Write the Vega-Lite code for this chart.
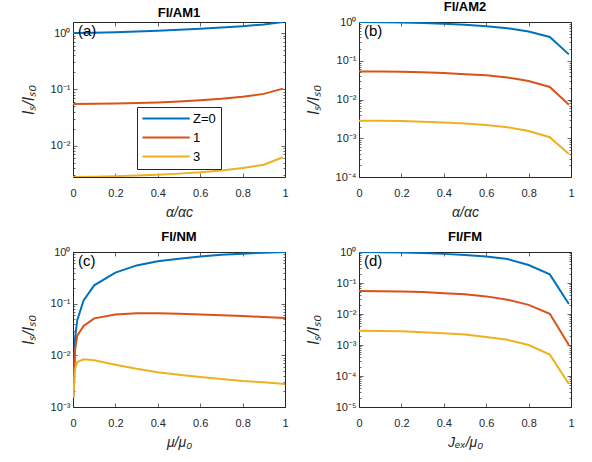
{
"$schema": "https://vega.github.io/schema/vega-lite/v6.json",
"padding": {"left": 19, "top": 0, "right": 5, "bottom": 5},
"background": "white",
"datasets": {
"d": [
{"p":"a","z":"Z=0","x":0,"y":1.0},{"p":"a","z":"Z=0","x":0.1,"y":1.01},{"p":"a","z":"Z=0","x":0.2,"y":1.03},{"p":"a","z":"Z=0","x":0.3,"y":1.06},{"p":"a","z":"Z=0","x":0.4,"y":1.1},{"p":"a","z":"Z=0","x":0.5,"y":1.14},{"p":"a","z":"Z=0","x":0.6,"y":1.19},{"p":"a","z":"Z=0","x":0.7,"y":1.25},{"p":"a","z":"Z=0","x":0.8,"y":1.32},{"p":"a","z":"Z=0","x":0.9,"y":1.42},{"p":"a","z":"Z=0","x":0.99,"y":1.57},
{"p":"a","z":"1","x":0,"y":0.055},{"p":"a","z":"1","x":0.1,"y":0.0552},{"p":"a","z":"1","x":0.2,"y":0.0558},{"p":"a","z":"1","x":0.3,"y":0.057},{"p":"a","z":"1","x":0.4,"y":0.0585},{"p":"a","z":"1","x":0.5,"y":0.061},{"p":"a","z":"1","x":0.6,"y":0.064},{"p":"a","z":"1","x":0.7,"y":0.068},{"p":"a","z":"1","x":0.8,"y":0.074},{"p":"a","z":"1","x":0.9,"y":0.083},{"p":"a","z":"1","x":0.99,"y":0.103},
{"p":"a","z":"3","x":0,"y":0.00277},{"p":"a","z":"3","x":0.1,"y":0.0028},{"p":"a","z":"3","x":0.2,"y":0.00287},{"p":"a","z":"3","x":0.3,"y":0.00295},{"p":"a","z":"3","x":0.4,"y":0.00305},{"p":"a","z":"3","x":0.5,"y":0.00318},{"p":"a","z":"3","x":0.6,"y":0.00335},{"p":"a","z":"3","x":0.7,"y":0.00362},{"p":"a","z":"3","x":0.8,"y":0.004},{"p":"a","z":"3","x":0.9,"y":0.00457},{"p":"a","z":"3","x":0.99,"y":0.0062},
{"p":"b","z":"Z=0","x":0,"y":1.0},{"p":"b","z":"Z=0","x":0.1,"y":0.99},{"p":"b","z":"Z=0","x":0.2,"y":0.97},{"p":"b","z":"Z=0","x":0.3,"y":0.94},{"p":"b","z":"Z=0","x":0.4,"y":0.9},{"p":"b","z":"Z=0","x":0.5,"y":0.85},{"p":"b","z":"Z=0","x":0.6,"y":0.78},{"p":"b","z":"Z=0","x":0.7,"y":0.69},{"p":"b","z":"Z=0","x":0.8,"y":0.57},{"p":"b","z":"Z=0","x":0.9,"y":0.41},{"p":"b","z":"Z=0","x":0.99,"y":0.146},
{"p":"b","z":"1","x":0,"y":0.053},{"p":"b","z":"1","x":0.1,"y":0.0528},{"p":"b","z":"1","x":0.2,"y":0.052},{"p":"b","z":"1","x":0.3,"y":0.0505},{"p":"b","z":"1","x":0.4,"y":0.048},{"p":"b","z":"1","x":0.5,"y":0.045},{"p":"b","z":"1","x":0.6,"y":0.042},{"p":"b","z":"1","x":0.7,"y":0.037},{"p":"b","z":"1","x":0.8,"y":0.03},{"p":"b","z":"1","x":0.9,"y":0.021},{"p":"b","z":"1","x":0.99,"y":0.0073},
{"p":"b","z":"3","x":0,"y":0.00285},{"p":"b","z":"3","x":0.1,"y":0.00283},{"p":"b","z":"3","x":0.2,"y":0.00277},{"p":"b","z":"3","x":0.3,"y":0.00268},{"p":"b","z":"3","x":0.4,"y":0.00255},{"p":"b","z":"3","x":0.5,"y":0.0024},{"p":"b","z":"3","x":0.6,"y":0.0022},{"p":"b","z":"3","x":0.7,"y":0.00193},{"p":"b","z":"3","x":0.8,"y":0.00153},{"p":"b","z":"3","x":0.9,"y":0.00106},{"p":"b","z":"3","x":0.99,"y":0.00039},
{"p":"c","z":"Z=0","x":0.001,"y":0.0015},{"p":"c","z":"Z=0","x":0.01,"y":0.022},{"p":"c","z":"Z=0","x":0.02,"y":0.048},{"p":"c","z":"Z=0","x":0.05,"y":0.116},{"p":"c","z":"Z=0","x":0.1,"y":0.226},{"p":"c","z":"Z=0","x":0.2,"y":0.40},{"p":"c","z":"Z=0","x":0.3,"y":0.55},{"p":"c","z":"Z=0","x":0.4,"y":0.66},{"p":"c","z":"Z=0","x":0.5,"y":0.74},{"p":"c","z":"Z=0","x":0.6,"y":0.82},{"p":"c","z":"Z=0","x":0.7,"y":0.88},{"p":"c","z":"Z=0","x":0.8,"y":0.93},{"p":"c","z":"Z=0","x":0.9,"y":0.97},{"p":"c","z":"Z=0","x":1.0,"y":1.0},
{"p":"c","z":"1","x":0.001,"y":0.0015},{"p":"c","z":"1","x":0.01,"y":0.013},{"p":"c","z":"1","x":0.02,"y":0.024},{"p":"c","z":"1","x":0.05,"y":0.037},{"p":"c","z":"1","x":0.1,"y":0.052},{"p":"c","z":"1","x":0.2,"y":0.062},{"p":"c","z":"1","x":0.3,"y":0.065},{"p":"c","z":"1","x":0.4,"y":0.065},{"p":"c","z":"1","x":0.5,"y":0.064},{"p":"c","z":"1","x":0.6,"y":0.062},{"p":"c","z":"1","x":0.7,"y":0.06},{"p":"c","z":"1","x":0.8,"y":0.058},{"p":"c","z":"1","x":0.9,"y":0.055},{"p":"c","z":"1","x":1.0,"y":0.053},
{"p":"c","z":"3","x":0.001,"y":0.0015},{"p":"c","z":"3","x":0.01,"y":0.0055},{"p":"c","z":"3","x":0.02,"y":0.0074},{"p":"c","z":"3","x":0.05,"y":0.0084},{"p":"c","z":"3","x":0.1,"y":0.008},{"p":"c","z":"3","x":0.2,"y":0.0066},{"p":"c","z":"3","x":0.3,"y":0.0055},{"p":"c","z":"3","x":0.4,"y":0.0047},{"p":"c","z":"3","x":0.5,"y":0.0042},{"p":"c","z":"3","x":0.6,"y":0.0038},{"p":"c","z":"3","x":0.7,"y":0.0035},{"p":"c","z":"3","x":0.8,"y":0.0032},{"p":"c","z":"3","x":0.9,"y":0.003},{"p":"c","z":"3","x":1.0,"y":0.0028},
{"p":"d","z":"Z=0","x":0,"y":1.0},{"p":"d","z":"Z=0","x":0.1,"y":0.99},{"p":"d","z":"Z=0","x":0.2,"y":0.96},{"p":"d","z":"Z=0","x":0.3,"y":0.92},{"p":"d","z":"Z=0","x":0.4,"y":0.87},{"p":"d","z":"Z=0","x":0.5,"y":0.8},{"p":"d","z":"Z=0","x":0.6,"y":0.71},{"p":"d","z":"Z=0","x":0.7,"y":0.59},{"p":"d","z":"Z=0","x":0.8,"y":0.38},{"p":"d","z":"Z=0","x":0.9,"y":0.19},{"p":"d","z":"Z=0","x":0.99,"y":0.021},
{"p":"d","z":"1","x":0,"y":0.055},{"p":"d","z":"1","x":0.1,"y":0.054},{"p":"d","z":"1","x":0.2,"y":0.053},{"p":"d","z":"1","x":0.3,"y":0.051},{"p":"d","z":"1","x":0.4,"y":0.047},{"p":"d","z":"1","x":0.5,"y":0.043},{"p":"d","z":"1","x":0.6,"y":0.037},{"p":"d","z":"1","x":0.7,"y":0.029},{"p":"d","z":"1","x":0.8,"y":0.0197},{"p":"d","z":"1","x":0.9,"y":0.0102},{"p":"d","z":"1","x":0.99,"y":0.001},
{"p":"d","z":"3","x":0,"y":0.0029},{"p":"d","z":"3","x":0.1,"y":0.00285},{"p":"d","z":"3","x":0.2,"y":0.0028},{"p":"d","z":"3","x":0.3,"y":0.0026},{"p":"d","z":"3","x":0.4,"y":0.0024},{"p":"d","z":"3","x":0.5,"y":0.0022},{"p":"d","z":"3","x":0.6,"y":0.0018},{"p":"d","z":"3","x":0.7,"y":0.00147},{"p":"d","z":"3","x":0.8,"y":0.001},{"p":"d","z":"3","x":0.9,"y":0.00049},{"p":"d","z":"3","x":0.99,"y":0.000055}
]
},
"columns": 2,
"spacing": {"row": 75, "column": 74},
"bounds": "flush",
"resolve": {"legend": {"color": "independent"}},
"concat": [
{
"title": "FI/AM1", "width": 212, "height": 155,
"data": {"name": "d"},
"transform": [{"filter": "datum.p == 'a'"}],
"layer": [
{"mark": {"type": "line", "strokeWidth": 2, "clip": true},
 "encoding": {
  "x": {"field": "x", "type": "quantitative", "scale": {"domain": [0, 1], "nice": false}, "axis": {"orient": "bottom", "values": [0,0.2,0.4,0.6,0.8,1], "format": "~g", "tickSize": -4, "labelPadding": 14, "labelFlush": false, "title": "α/αc", "titlePadding": 7}},
  "y": {"field": "y", "type": "quantitative", "scale": {"type": "log", "domain": [0.00277, 1.57], "nice": false}, "axis": {"orient": "left", "values": [0.003,0.004,0.005,0.006,0.007,0.008,0.009,0.01,0.02,0.03,0.04,0.05,0.06,0.07,0.08,0.09,0.1,0.2,0.3,0.4,0.5,0.6,0.7,0.8,0.9,1], "labelOverlap": false, "labelExpr": "abs(log(datum.value)/LN10 - round(log(datum.value)/LN10)) > 0.001 ? '' : '10' + (round(log(datum.value)/LN10) == 0 ? '⁰' : round(log(datum.value)/LN10) == -1 ? '⁻¹' : round(log(datum.value)/LN10) == -2 ? '⁻²' : round(log(datum.value)/LN10) == -3 ? '⁻³' : round(log(datum.value)/LN10) == -4 ? '⁻⁴' : '⁻⁵')", "tickSize": {"condition": {"test": "abs(log(datum.value)/LN10 - round(log(datum.value)/LN10)) > 0.001", "value": -2}, "value": -4}, "labelPadding": 7, "title": "Iₛ/Iₛ₀", "titleFontSize": 16, "titlePadding": 14}},
  "color": {"field": "z", "type": "nominal", "scale": {"domain": ["Z=0", "1", "3"], "range": ["#0072BD", "#D95319", "#EDB120"]}, "legend": {"orient": "none", "legendX": 64, "legendY": 85, "title": null, "symbolType": "M-1.1,0H7.5", "symbolSize": 121, "symbolStrokeWidth": 2, "labelFontSize": 13, "labelFont": "Liberation Sans", "labelColor": "black", "strokeColor": "#262626", "fillColor": "white", "padding": 5, "labelOffset": 38, "rowPadding": 5}}
 }},
{"mark": {"type": "line", "opacity": 0},
 "encoding": {
  "x": {"field": "x", "type": "quantitative", "axis": {"orient": "top", "values": [0,0.2,0.4,0.6,0.8,1], "labels": false, "title": null, "tickSize": -4}},
  "y": {"field": "y", "type": "quantitative", "axis": {"orient": "right", "values": [0.003,0.004,0.005,0.006,0.007,0.008,0.009,0.01,0.02,0.03,0.04,0.05,0.06,0.07,0.08,0.09,0.1,0.2,0.3,0.4,0.5,0.6,0.7,0.8,0.9,1], "labels": false, "title": null, "tickSize": {"condition": {"test": "abs(log(datum.value)/LN10 - round(log(datum.value)/LN10)) > 0.001", "value": -2}, "value": -4}}},
  "detail": {"field": "z"}
 }},
{"data": {"values": [{"t": "(a)"}]},
 "mark": {"type": "text", "align": "left", "baseline": "top", "dx": 5, "dy": 2, "fontSize": 15, "font": "Liberation Sans", "color": "black"},
 "encoding": {"x": {"datum": 0, "type": "quantitative", "axis": null}, "y": {"datum": 1.57, "type": "quantitative", "axis": null}, "text": {"field": "t"}}}
],
"resolve": {"axis": {"x": "independent", "y": "independent"}}
},
{
"title": "FI/AM2", "width": 212, "height": 155,
"data": {"name": "d"},
"transform": [{"filter": "datum.p == 'b'"}],
"layer": [
{"mark": {"type": "line", "strokeWidth": 2, "clip": true},
 "encoding": {
  "x": {"field": "x", "type": "quantitative", "scale": {"domain": [0, 1], "nice": false}, "axis": {"orient": "bottom", "values": [0,0.2,0.4,0.6,0.8,1], "format": "~g", "tickSize": -4, "labelPadding": 14, "labelFlush": false, "title": "α/αc", "titlePadding": 7}},
  "y": {"field": "y", "type": "quantitative", "scale": {"type": "log", "domain": [0.0001, 1], "nice": false}, "axis": {"orient": "left", "values": [0.0001,0.0002,0.0003,0.0004,0.0005,0.0006,0.0007,0.0008,0.0009,0.001,0.002,0.003,0.004,0.005,0.006,0.007,0.008,0.009,0.01,0.02,0.03,0.04,0.05,0.06,0.07,0.08,0.09,0.1,0.2,0.3,0.4,0.5,0.6,0.7,0.8,0.9,1], "labelOverlap": false, "labelExpr": "abs(log(datum.value)/LN10 - round(log(datum.value)/LN10)) > 0.001 ? '' : '10' + (round(log(datum.value)/LN10) == 0 ? '⁰' : round(log(datum.value)/LN10) == -1 ? '⁻¹' : round(log(datum.value)/LN10) == -2 ? '⁻²' : round(log(datum.value)/LN10) == -3 ? '⁻³' : round(log(datum.value)/LN10) == -4 ? '⁻⁴' : '⁻⁵')", "tickSize": {"condition": {"test": "abs(log(datum.value)/LN10 - round(log(datum.value)/LN10)) > 0.001", "value": -2}, "value": -4}, "labelPadding": 7, "title": "Iₛ/Iₛ₀", "titleFontSize": 16, "titlePadding": 14}},
  "color": {"field": "z", "type": "nominal", "scale": {"domain": ["Z=0", "1", "3"], "range": ["#0072BD", "#D95319", "#EDB120"]}, "legend": null}
 }},
{"mark": {"type": "line", "opacity": 0},
 "encoding": {
  "x": {"field": "x", "type": "quantitative", "axis": {"orient": "top", "values": [0,0.2,0.4,0.6,0.8,1], "labels": false, "title": null, "tickSize": -4}},
  "y": {"field": "y", "type": "quantitative", "axis": {"orient": "right", "values": [0.0001,0.0002,0.0003,0.0004,0.0005,0.0006,0.0007,0.0008,0.0009,0.001,0.002,0.003,0.004,0.005,0.006,0.007,0.008,0.009,0.01,0.02,0.03,0.04,0.05,0.06,0.07,0.08,0.09,0.1,0.2,0.3,0.4,0.5,0.6,0.7,0.8,0.9,1], "labels": false, "title": null, "tickSize": {"condition": {"test": "abs(log(datum.value)/LN10 - round(log(datum.value)/LN10)) > 0.001", "value": -2}, "value": -4}}},
  "detail": {"field": "z"}
 }},
{"data": {"values": [{"t": "(b)"}]},
 "mark": {"type": "text", "align": "left", "baseline": "top", "dx": 5, "dy": 2, "fontSize": 15, "font": "Liberation Sans", "color": "black"},
 "encoding": {"x": {"datum": 0, "type": "quantitative", "axis": null}, "y": {"datum": 1, "type": "quantitative", "axis": null}, "text": {"field": "t"}}}
],
"resolve": {"axis": {"x": "independent", "y": "independent"}}
},
{
"title": "FI/NM", "width": 212, "height": 155,
"data": {"name": "d"},
"transform": [{"filter": "datum.p == 'c'"}],
"layer": [
{"mark": {"type": "line", "strokeWidth": 2, "clip": true},
 "encoding": {
  "x": {"field": "x", "type": "quantitative", "scale": {"domain": [0, 1], "nice": false}, "axis": {"orient": "bottom", "values": [0,0.2,0.4,0.6,0.8,1], "format": "~g", "tickSize": -4, "labelPadding": 14, "labelFlush": false, "title": "μ/μ₀", "titlePadding": 7}},
  "y": {"field": "y", "type": "quantitative", "scale": {"type": "log", "domain": [0.001, 1], "nice": false}, "axis": {"orient": "left", "values": [0.001,0.002,0.003,0.004,0.005,0.006,0.007,0.008,0.009,0.01,0.02,0.03,0.04,0.05,0.06,0.07,0.08,0.09,0.1,0.2,0.3,0.4,0.5,0.6,0.7,0.8,0.9,1], "labelOverlap": false, "labelExpr": "abs(log(datum.value)/LN10 - round(log(datum.value)/LN10)) > 0.001 ? '' : '10' + (round(log(datum.value)/LN10) == 0 ? '⁰' : round(log(datum.value)/LN10) == -1 ? '⁻¹' : round(log(datum.value)/LN10) == -2 ? '⁻²' : round(log(datum.value)/LN10) == -3 ? '⁻³' : round(log(datum.value)/LN10) == -4 ? '⁻⁴' : '⁻⁵')", "tickSize": {"condition": {"test": "abs(log(datum.value)/LN10 - round(log(datum.value)/LN10)) > 0.001", "value": -2}, "value": -4}, "labelPadding": 7, "title": "Iₛ/Iₛ₀", "titleFontSize": 16, "titlePadding": 14}},
  "color": {"field": "z", "type": "nominal", "scale": {"domain": ["Z=0", "1", "3"], "range": ["#0072BD", "#D95319", "#EDB120"]}, "legend": null}
 }},
{"mark": {"type": "line", "opacity": 0},
 "encoding": {
  "x": {"field": "x", "type": "quantitative", "axis": {"orient": "top", "values": [0,0.2,0.4,0.6,0.8,1], "labels": false, "title": null, "tickSize": -4}},
  "y": {"field": "y", "type": "quantitative", "axis": {"orient": "right", "values": [0.001,0.002,0.003,0.004,0.005,0.006,0.007,0.008,0.009,0.01,0.02,0.03,0.04,0.05,0.06,0.07,0.08,0.09,0.1,0.2,0.3,0.4,0.5,0.6,0.7,0.8,0.9,1], "labels": false, "title": null, "tickSize": {"condition": {"test": "abs(log(datum.value)/LN10 - round(log(datum.value)/LN10)) > 0.001", "value": -2}, "value": -4}}},
  "detail": {"field": "z"}
 }},
{"data": {"values": [{"t": "(c)"}]},
 "mark": {"type": "text", "align": "left", "baseline": "top", "dx": 5, "dy": 2, "fontSize": 15, "font": "Liberation Sans", "color": "black"},
 "encoding": {"x": {"datum": 0, "type": "quantitative", "axis": null}, "y": {"datum": 1, "type": "quantitative", "axis": null}, "text": {"field": "t"}}}
],
"resolve": {"axis": {"x": "independent", "y": "independent"}}
},
{
"title": "FI/FM", "width": 212, "height": 155,
"data": {"name": "d"},
"transform": [{"filter": "datum.p == 'd'"}],
"layer": [
{"mark": {"type": "line", "strokeWidth": 2, "clip": true},
 "encoding": {
  "x": {"field": "x", "type": "quantitative", "scale": {"domain": [0, 1], "nice": false}, "axis": {"orient": "bottom", "values": [0,0.2,0.4,0.6,0.8,1], "format": "~g", "tickSize": -4, "labelPadding": 14, "labelFlush": false, "title": "Jₑₓ/μ₀", "titlePadding": 7}},
  "y": {"field": "y", "type": "quantitative", "scale": {"type": "log", "domain": [0.00001, 1], "nice": false}, "axis": {"orient": "left", "values": [0.00001,0.00002,0.00003,0.00004,0.00005,0.00006,0.00007,0.00008,0.00009,0.0001,0.0002,0.0003,0.0004,0.0005,0.0006,0.0007,0.0008,0.0009,0.001,0.002,0.003,0.004,0.005,0.006,0.007,0.008,0.009,0.01,0.02,0.03,0.04,0.05,0.06,0.07,0.08,0.09,0.1,0.2,0.3,0.4,0.5,0.6,0.7,0.8,0.9,1], "labelOverlap": false, "labelExpr": "abs(log(datum.value)/LN10 - round(log(datum.value)/LN10)) > 0.001 ? '' : '10' + (round(log(datum.value)/LN10) == 0 ? '⁰' : round(log(datum.value)/LN10) == -1 ? '⁻¹' : round(log(datum.value)/LN10) == -2 ? '⁻²' : round(log(datum.value)/LN10) == -3 ? '⁻³' : round(log(datum.value)/LN10) == -4 ? '⁻⁴' : '⁻⁵')", "tickSize": {"condition": {"test": "abs(log(datum.value)/LN10 - round(log(datum.value)/LN10)) > 0.001", "value": -2}, "value": -4}, "labelPadding": 7, "title": "Iₛ/Iₛ₀", "titleFontSize": 16, "titlePadding": 14}},
  "color": {"field": "z", "type": "nominal", "scale": {"domain": ["Z=0", "1", "3"], "range": ["#0072BD", "#D95319", "#EDB120"]}, "legend": null}
 }},
{"mark": {"type": "line", "opacity": 0},
 "encoding": {
  "x": {"field": "x", "type": "quantitative", "axis": {"orient": "top", "values": [0,0.2,0.4,0.6,0.8,1], "labels": false, "title": null, "tickSize": -4}},
  "y": {"field": "y", "type": "quantitative", "axis": {"orient": "right", "values": [0.00001,0.00002,0.00003,0.00004,0.00005,0.00006,0.00007,0.00008,0.00009,0.0001,0.0002,0.0003,0.0004,0.0005,0.0006,0.0007,0.0008,0.0009,0.001,0.002,0.003,0.004,0.005,0.006,0.007,0.008,0.009,0.01,0.02,0.03,0.04,0.05,0.06,0.07,0.08,0.09,0.1,0.2,0.3,0.4,0.5,0.6,0.7,0.8,0.9,1], "labels": false, "title": null, "tickSize": {"condition": {"test": "abs(log(datum.value)/LN10 - round(log(datum.value)/LN10)) > 0.001", "value": -2}, "value": -4}}},
  "detail": {"field": "z"}
 }},
{"data": {"values": [{"t": "(d)"}]},
 "mark": {"type": "text", "align": "left", "baseline": "top", "dx": 5, "dy": 2, "fontSize": 15, "font": "Liberation Sans", "color": "black"},
 "encoding": {"x": {"datum": 0, "type": "quantitative", "axis": null}, "y": {"datum": 1, "type": "quantitative", "axis": null}, "text": {"field": "t"}}}
],
"resolve": {"axis": {"x": "independent", "y": "independent"}}
}
],
"config": {
"font": "Liberation Sans",
"view": {"stroke": "#262626", "strokeWidth": 1},
"axis": {"grid": false, "domain": false, "labelFont": "Liberation Sans", "labelFontSize": 11, "labelColor": "#262626", "tickColor": "#262626", "tickWidth": 0.7, "titleFont": "Liberation Sans", "titleColor": "#262626", "titleFontWeight": "normal", "titleFontStyle": "italic", "titleFontSize": 14},
"title": {"font": "Liberation Sans", "fontSize": 13, "fontWeight": "bold", "color": "black", "offset": 2}
}
}
